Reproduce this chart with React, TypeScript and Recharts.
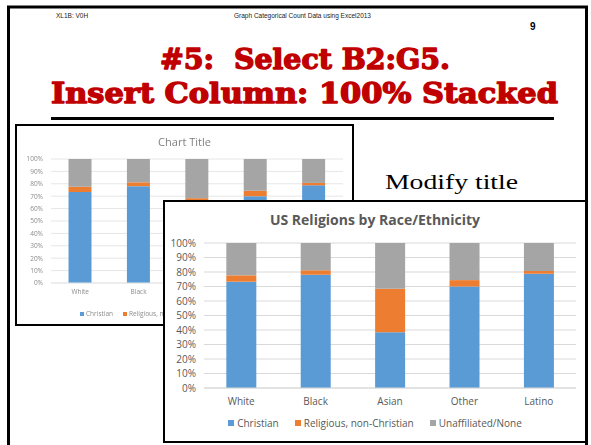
import React from 'react';
import { BarChart, Bar, XAxis, YAxis, CartesianGrid } from 'recharts';

// data (share of each group, in %)
const groups = ['White', 'Black', 'Asian', 'Other', 'Latino'];
const christian = [73.3, 78.1, 38.4, 70.0, 78.8];
const nonChristian = [4.4, 3.1, 30.0, 4.4, 1.9];
const unaffiliated = [22.3, 18.8, 31.6, 25.6, 19.3];
const seriesNames = ['Christian', 'Religious, non-Christian', 'Unaffiliated/None'];
const seriesKeys = ['christian', 'nonChristian', 'unaffiliated'];
const seriesColors = ['#5b9bd5', '#ed7d31', '#a5a5a5'];
const pctTicks = [0, 0.1, 0.2, 0.3, 0.4, 0.5, 0.6, 0.7, 0.8, 0.9, 1];

const rows = groups.map((g, i) => ({
    group: g,
    christian: christian[i],
    nonChristian: nonChristian[i],
    unaffiliated: unaffiliated[i],
}));

const chartFont = '"Open Sans", "DejaVu Sans", sans-serif';
const pct = (v: number) => `${Math.round(v * 100)}%`;

const BackChart = () => (
    <div style={{
        position: 'absolute', left: 15, top: 124, width: 339, height: 202,
        border: '2px solid #000', boxSizing: 'border-box', background: '#fff',
        fontFamily: chartFont, filter: 'blur(0.4px)',
    }}>
        <div style={{ position: 'absolute', top: 8, width: '100%', textAlign: 'center', fontSize: 11, color: '#7f7f7f' }}>
            Chart Title
        </div>
        <BarChart width={335} height={198} data={rows} stackOffset="expand" barCategoryGap="30%"
            margin={{ top: 33, right: 9, bottom: 27, left: 0 }}>
            <CartesianGrid vertical={false} stroke="#e6e6e6" />
            <XAxis dataKey="group" height={14} tickLine={false} axisLine={{ stroke: '#e6e6e6' }}
                tick={{ fill: '#8c8c8c', fontSize: 6.5 }} tickMargin={0} />
            <YAxis width={34} ticks={pctTicks} domain={[0, 1]} tickFormatter={pct} axisLine={false} tickLine={false}
                tick={{ fill: '#8c8c8c', fontSize: 6.5 }} interval={0} />
            {seriesKeys.map((k, i) => (
                <Bar key={k} dataKey={k} stackId="a" fill={seriesColors[i]} isAnimationActive={false} />
            ))}
        </BarChart>
        <div style={{ position: 'absolute', top: 183, left: 63, display: 'flex', gap: 10, fontSize: 6.5, color: '#8c8c8c' }}>
            {seriesNames.map((n, i) => (
                <span key={n} style={{ display: 'flex', alignItems: 'center', gap: 2 }}>
                    <span style={{ width: 4, height: 4, background: seriesColors[i], display: 'inline-block' }} />
                    {n}
                </span>
            ))}
        </div>
    </div>
);

const FrontChart = () => (
    <div style={{
        position: 'absolute', left: 163, top: 200, width: 424, height: 243,
        border: '2px solid #000', boxSizing: 'border-box', background: '#fff',
        fontFamily: chartFont,
    }}>
        <div style={{ position: 'absolute', top: 8, width: '100%', textAlign: 'center', fontSize: 14, fontWeight: 700, color: '#595959' }}>
            US Religions by Race/Ethnicity
        </div>
        <BarChart width={420} height={239} data={rows} stackOffset="expand" barCategoryGap="30%"
            margin={{ top: 41, right: 9, bottom: 33, left: 0 }}>
            <CartesianGrid vertical={false} stroke="#d9d9d9" />
            <XAxis dataKey="group" height={20} tickLine={false} axisLine={{ stroke: '#d9d9d9' }}
                tick={{ fill: '#595959', fontSize: 10 }} tickMargin={4} />
            <YAxis width={39} ticks={pctTicks} domain={[0, 1]} tickFormatter={pct} axisLine={false} tickLine={false}
                tick={{ fill: '#595959', fontSize: 10 }} interval={0} />
            {seriesKeys.map((k, i) => (
                <Bar key={k} dataKey={k} name={seriesNames[i]} stackId="a" fill={seriesColors[i]} isAnimationActive={false} />
            ))}
        </BarChart>
        <div style={{
            position: 'absolute', top: 214, left: 0, width: '100%', display: 'flex', justifyContent: 'center',
            gap: 16, fontSize: 10, color: '#595959',
        }}>
            {seriesNames.map((n, i) => (
                <span key={n} style={{ display: 'flex', alignItems: 'center', gap: 3 }}>
                    <span style={{ width: 6, height: 6, background: seriesColors[i], display: 'inline-block' }} />
                    {n}
                </span>
            ))}
        </div>
    </div>
);

export default function App() {
    return (
        <div style={{ position: 'absolute', left: 0, top: 0, width: 591, height: 445, background: '#fff', overflow: 'hidden' }}>
            <svg width={591} height={445} style={{ position: 'absolute', left: 0, top: 0 }}>
                {/* slide frame */}
                <rect x={8.5} y={7} width={578} height={460} fill="none" stroke="#000" strokeWidth={3} />
                <text x={56} y={18} fontFamily="Liberation Sans, Arial, sans-serif" fontSize={6.5} fill="#222">XL1B: V0H</text>
                <text x={234} y={18} fontFamily="Liberation Sans, Arial, sans-serif" fontSize={6.5} fill="#222" textLength={137} lengthAdjust="spacingAndGlyphs">
                    Graph Categorical Count Data using Excel2013
                </text>
                <text x={530} y={30} fontFamily="Liberation Sans, Arial, sans-serif" fontSize={10} fontWeight={700} fill="#000">9</text>
                <text x={160} y={69} fontFamily="DejaVu Serif, serif" fontSize={28} fontWeight={700} fill="#c00000"
                    stroke="#c00000" strokeWidth={1.4} strokeLinejoin="round"
                    textLength={290} lengthAdjust="spacingAndGlyphs" xmlSpace="preserve">#5:  Select B2:G5.</text>
                <text x={51} y={103} fontFamily="DejaVu Serif, serif" fontSize={28} fontWeight={700} fill="#c00000"
                    stroke="#c00000" strokeWidth={1.4} strokeLinejoin="round"
                    textLength={507} lengthAdjust="spacingAndGlyphs">Insert Column: 100% Stacked</text>
                <rect x={51} y={117} width={503} height={3} fill="#000" />
                <text x={385} y={189} fontFamily="Liberation Serif, Times New Roman, serif" fontSize={22} fill="#000"
                    textLength={133} lengthAdjust="spacingAndGlyphs">Modify title</text>
            </svg>
            <BackChart />
            <FrontChart />
        </div>
    );
}
